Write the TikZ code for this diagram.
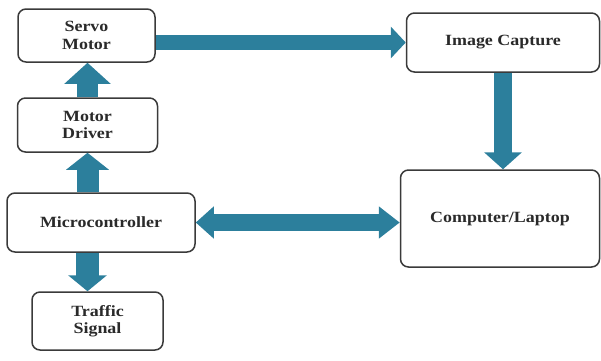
\documentclass[tikz,border=0pt]{standalone}
\usepackage{fontspec}
\usepackage{graphicx}
\setmainfont{Liberation Serif}
\usetikzlibrary{arrows.meta}
\definecolor{arr}{HTML}{2C7F9C}
\definecolor{edge}{HTML}{3A3A3A}
\definecolor{txt}{HTML}{2A2A2A}
\newcommand\sx[1]{\scalebox{1.15}[1]{#1}}
\begin{document}
\begin{tikzpicture}[x=1pt,y=-1pt,
  blk/.style={draw=edge,line width=1.5pt,rounded corners=8pt,fill=white,inner sep=0pt,
    align=center,font=\fontsize{15.6}{17.5}\selectfont\bfseries,text=txt},
  fat/.style={draw=arr,line width=#1}]
\useasboundingbox (0,0) rectangle (601,360);
\node[blk,minimum width=137pt,minimum height=53pt] (servo) at (86.5,35.5) {\sx{Servo}\\\sx{Motor}};
\node[blk,minimum width=140pt,minimum height=54pt] (driver) at (87.5,125) {\sx{Motor}\\\sx{Driver}};
\node[blk,minimum width=188pt,minimum height=59pt] (micro) at (101,222.5) {\sx{Microcontroller}};
\node[blk,minimum width=131pt,minimum height=58pt] (traffic) at (97.5,321) {\sx{Traffic}\\\sx{Signal}};
\node[blk,minimum width=193pt,minimum height=59pt] (image) at (503,42.5) {\sx{Image Capture}};
\node[blk,minimum width=199pt,minimum height=97pt] (computer) at (500,218.5) {\sx{Computer/Laptop}};
\draw[fat=21pt,-{Triangle[length=21pt,width=45pt]}] (driver.north) -- (driver.north |- servo.south);
\draw[fat=22pt,-{Triangle[length=17pt,width=42pt]}] (micro.north -| driver) -- (driver.south);
\draw[fat=23pt,-{Triangle[length=16pt,width=38pt]}] (micro.south -| driver) -- (traffic.north -| driver);
\draw[fat=15pt,-{Triangle[length=15pt,width=31pt]}] (servo.east |- image.west) -- (image.west);
\draw[fat=18pt,-{Triangle[length=17pt,width=37pt]}] (image.south) -- (image.south |- computer.north);
\draw[fat=17pt,{Triangle[length=18pt,width=31pt]}-{Triangle[length=21pt,width=31pt]}] (micro.east) -- (micro.east -| computer.west);
\end{tikzpicture}
\end{document}
